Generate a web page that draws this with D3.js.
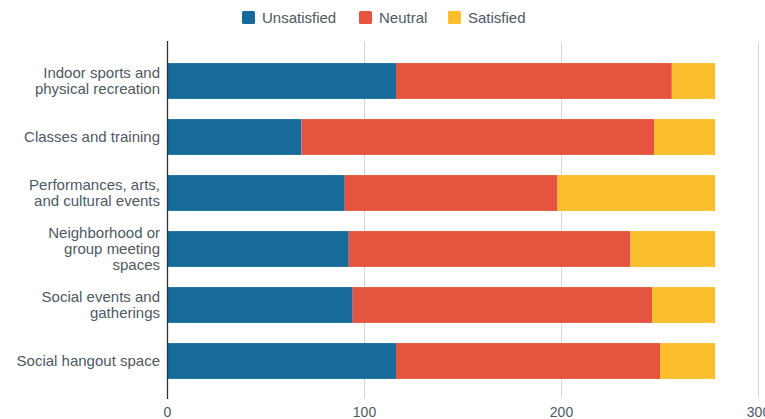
<!DOCTYPE html>
<html>
<head>
<meta charset="utf-8">
<script src="https://cdn.jsdelivr.net/npm/d3@7"></script>
<style>
  body { margin: 0; background: #fff; }
  svg { font-family: "Liberation Sans", Arial, sans-serif; }
</style>
</head>
<body>
<svg></svg>
<script>
// categories, top to bottom
var categories = [
  ["Indoor sports and", "physical recreation"],
  ["Classes and training"],
  ["Performances, arts,", "and cultural events"],
  ["Neighborhood or", "group meeting", "spaces"],
  ["Social events and", "gatherings"],
  ["Social hangout space"]
];
var series = ["Unsatisfied", "Neutral", "Satisfied"];
var unsatisfied = [116, 68, 90, 92, 94, 116];
var neutral = [140, 179, 108, 143, 152, 134];
var satisfied = [22, 31, 80, 43, 32, 28];
var ticks = [0, 100, 200, 300];
var colors = ["#176b9b", "#e5543f", "#fbbf2d"];

var svgWidth = 765, svgHeight = 419;
var svg = d3.select("svg")
    .attr("width", svgWidth)
    .attr("height", svgHeight);

// build rows for the stack
var rows = categories.map(function(c, i) {
  return { key: i, Unsatisfied: unsatisfied[i], Neutral: neutral[i], Satisfied: satisfied[i] };
});

var x = d3.scaleLinear().domain([0, 300]).range([167.5, 758.5]);
var y = d3.scaleBand()
    .domain(d3.range(categories.length))
    .range([53, 389])
    .paddingInner(0.36)
    .paddingOuter(0.18);

var color = d3.scaleOrdinal().domain(series).range(colors);

// gridlines
svg.append("g").selectAll("line")
    .data(ticks.slice(1))
    .enter().append("line")
    .attr("x1", function(d) { return x(d); })
    .attr("x2", function(d) { return x(d); })
    .attr("y1", 41).attr("y2", 399)
    .attr("stroke", "#d6d6d6")
    .attr("stroke-width", 1);

// stacked bars
var stack = d3.stack().keys(series);
svg.append("g").selectAll("g")
    .data(stack(rows))
    .enter().append("g")
    .attr("fill", function(d) { return color(d.key); })
    .selectAll("rect")
    .data(function(d) { return d; })
    .enter().append("rect")
    .attr("x", function(d) { return x(d[0]); })
    .attr("y", function(d) { return y(d.data.key); })
    .attr("width", function(d) { return x(d[1]) - x(d[0]); })
    .attr("height", y.bandwidth());

// zero axis line
svg.append("line")
    .attr("x1", x(0)).attr("x2", x(0))
    .attr("y1", 41).attr("y2", 399)
    .attr("stroke", "#333")
    .attr("stroke-width", 1.3);

// x tick labels (last one sits partly off the right edge like the original)
svg.append("g").selectAll("text")
    .data(ticks)
    .enter().append("text")
    .attr("x", function(d) { return x(d); })
    .attr("y", 417)
    .attr("text-anchor", "middle")
    .attr("font-size", 14)
    .attr("fill", "#4d5963")
    .text(function(d) { return d; });

// category labels
var lab = svg.append("g").selectAll("text")
    .data(categories)
    .enter().append("text")
    .attr("text-anchor", "end")
    .attr("font-size", 15)
    .attr("fill", "#4d5963");
lab.each(function(lines, i) {
  var cy = y(i) + y.bandwidth() / 2;
  var lh = 16;
  var top = cy - (lines.length - 1) * lh / 2 + 5;
  d3.select(this).selectAll("tspan")
    .data(lines)
    .enter().append("tspan")
    .attr("x", 160)
    .attr("y", function(d, j) { return top + j * lh; })
    .text(function(d) { return d; });
});

// legend
var legendX = [242, 359, 448];
var legend = svg.append("g").selectAll("g")
    .data(series)
    .enter().append("g")
    .attr("transform", function(d, i) { return "translate(" + legendX[i] + ",11)"; });
legend.append("rect")
    .attr("width", 13).attr("height", 13)
    .attr("rx", 1.5)
    .attr("fill", function(d) { return color(d); });
legend.append("text")
    .attr("x", 20).attr("y", 12)
    .attr("font-size", 15)
    .attr("fill", "#4d5963")
    .text(function(d) { return d; });
</script>
</body>
</html>
